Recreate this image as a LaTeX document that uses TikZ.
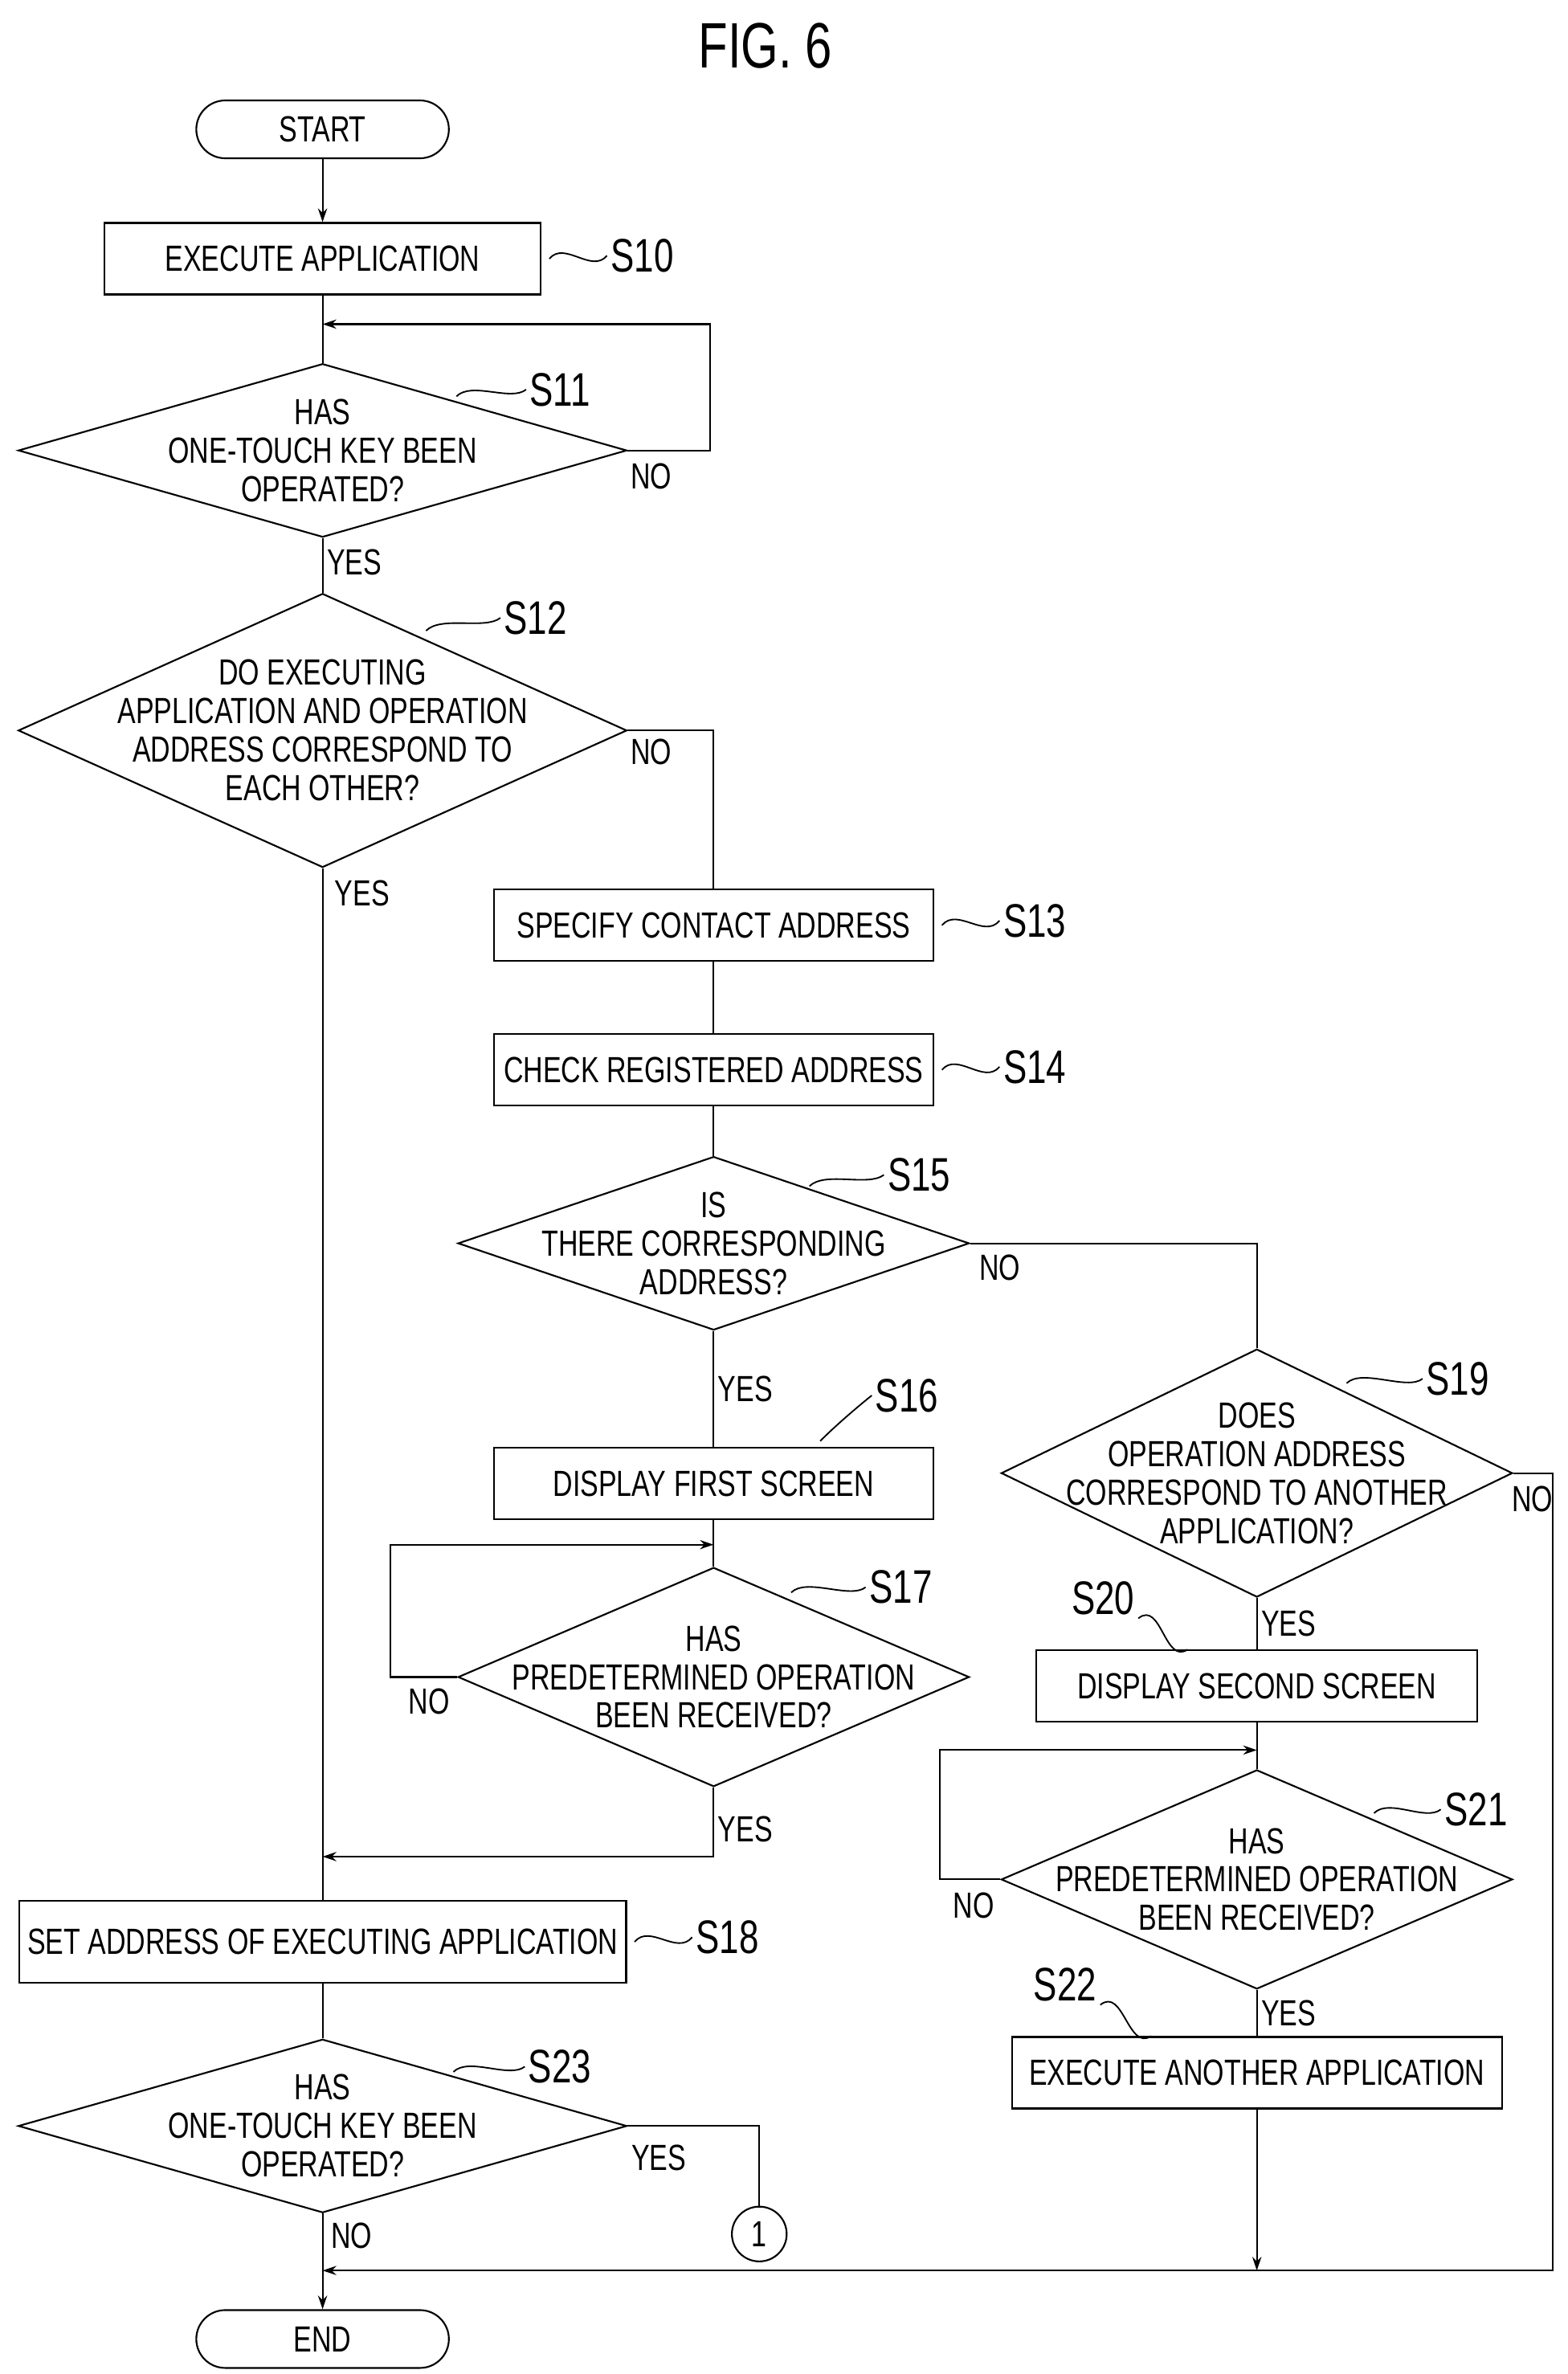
\documentclass[tikz,border=0pt]{standalone}
\usepackage{fontspec}
\setmainfont[FakeStretch=0.75]{Liberation Sans}
\usetikzlibrary{shapes.geometric,arrows.meta,positioning,calc}

\begin{document}
\begin{tikzpicture}[x=0.05cm,y=-0.05cm,
    every node/.style={font=\fontsize{34}{38}\selectfont},
    box/.style={rectangle, draw, line width=1.6pt, minimum height=2.35cm, inner sep=0pt},
    term/.style={rectangle, draw, line width=1.6pt, rounded corners=0.95cm, minimum width=8.3cm, minimum height=1.9cm},
    decision/.style={diamond, draw, line width=1.6pt, inner sep=0pt, font=\fontsize{2}{2}\selectfont},
    dtext/.style={align=center, font=\fontsize{34}{36}\selectfont},
    tag/.style={font=\fontsize{44}{48}\selectfont},
    tilde/.style={line width=1.4pt},
    line/.style={line width=1.6pt},
    arrow/.style={line width=1.6pt,-{Stealth[length=0.45cm,width=0.3cm]}}]

    \useasboundingbox (0,0) rectangle (1030,1560);
    \node[font=\fontsize{60}{64}\selectfont] (title) at (503,30) {FIG. 6};

    % main column
    \node[term] (start) at (212,85) {START};
    \node[box, minimum width=14.35cm] (s10) at (212,170) {EXECUTE APPLICATION};
    \node[decision, aspect=3.5, minimum width=20cm, minimum height=5.7cm,
      label={[dtext]center:HAS\\ONE-TOUCH KEY BEEN\\OPERATED?}] (s11) at (212,296) {};
    \node[decision, aspect=2.22, minimum width=20cm, minimum height=9cm,
      label={[dtext]center:DO EXECUTING\\APPLICATION AND OPERATION\\ADDRESS CORRESPOND TO\\EACH OTHER?}] (s12) at (212,480) {};
    \node[box, minimum width=19.95cm, minimum height=2.7cm] (s18) at (212,1276) {SET ADDRESS OF EXECUTING APPLICATION};
    \node[decision, aspect=3.5, minimum width=20cm, minimum height=5.7cm,
      label={[dtext]center:HAS\\ONE-TOUCH KEY BEEN\\OPERATED?}] (s23) at (212,1397) {};
    \node[term] (end) at (212,1537) {END};
    \node[circle, draw, line width=1.6pt, minimum size=1.8cm, inner sep=0pt] (c1) at (499,1468) {1};

    % middle column
    \node[box, minimum width=14.45cm] (s13) at (469,608) {SPECIFY CONTACT ADDRESS};
    \node[box, minimum width=14.45cm] (s14) at (469,703) {CHECK REGISTERED ADDRESS};
    \node[decision, aspect=2.95, minimum width=16.8cm, minimum height=5.7cm,
      label={[dtext]center:IS\\THERE CORRESPONDING\\ADDRESS?}] (s15) at (469,817) {};
    \node[box, minimum width=14.45cm] (s16) at (469,975) {DISPLAY FIRST SCREEN};
    \node[decision, aspect=2.33, minimum width=16.8cm, minimum height=7.2cm,
      label={[dtext]center:HAS\\PREDETERMINED OPERATION\\BEEN RECEIVED?}] (s17) at (469,1102) {};

    % right column
    \node[decision, aspect=2.06, minimum width=16.8cm, minimum height=8.15cm,
      label={[dtext]center:DOES\\OPERATION ADDRESS\\CORRESPOND TO ANOTHER\\APPLICATION?}] (s19) at (826,968) {};
    \node[box, minimum width=14.5cm] (s20) at (826,1108) {DISPLAY SECOND SCREEN};
    \node[decision, aspect=2.33, minimum width=16.8cm, minimum height=7.2cm,
      label={[dtext]center:HAS\\PREDETERMINED OPERATION\\BEEN RECEIVED?}] (s21) at (826,1235) {};
    \node[box, minimum width=16.1cm] (s22) at (826,1362) {EXECUTE ANOTHER APPLICATION};

    % step tags
    \node[tag] (t10) at (422,168) {S10};
    \node[tag] (t11) at (368,256) {S11};
    \node[tag] (t12) at (352,406) {S12};
    \node[tag] (t13) at (680,605) {S13};
    \node[tag] (t14) at (680,701) {S14};
    \node[tag] (t15) at (604,772) {S15};
    \node[tag] (t16) at (596,917) {S16};
    \node[tag] (t17) at (592,1043) {S17};
    \node[tag] (t18) at (478,1273) {S18};
    \node[tag] (t19) at (958,906) {S19};
    \node[tag] (t20) at (725,1050) {S20};
    \node[tag] (t21) at (970,1189) {S21};
    \node[tag] (t22) at (700,1304) {S22};
    \node[tag] (t23) at (368,1358) {S23};

    \draw[tilde] (s10.east) ++(5,0) .. controls +(10,-12) and +(-10,12) .. (t10.west);
    \draw[tilde] (s11.north) ++(88,22) .. controls +(10,-10) and +(-10,8) .. (t11.west);
    \draw[tilde] (s12.north) ++(68,25) .. controls +(10,-10) and +(-10,8) .. (t12.west);
    \draw[tilde] (s13.east) ++(5,0) .. controls +(10,-12) and +(-10,12) .. (t13.west);
    \draw[tilde] (s14.east) ++(5,0) .. controls +(10,-12) and +(-10,12) .. (t14.west);
    \draw[tilde] (s15.north) ++(63,20) .. controls +(10,-10) and +(-10,8) .. (t15.west);
    \draw[tilde] (s16.north) ++(70,-4) .. controls +(10,-10) and +(-10,8) .. (t16.west);
    \draw[tilde] (s17.north) ++(51,17) .. controls +(10,-10) and +(-10,8) .. (t17.west);
    \draw[tilde] (s18.east) ++(5,0) .. controls +(10,-12) and +(-10,12) .. (t18.west);
    \draw[tilde] (s19.north) ++(59,23) .. controls +(10,-10) and +(-10,8) .. (t19.west);
    \draw[tilde] (t20.south east) .. controls +(15,-12) and +(-15,10) .. ($(s20.north west)+(100,0)$);
    \draw[tilde] (s21.north) ++(77,29) .. controls +(10,-10) and +(-10,8) .. (t21.west);
    \draw[tilde] (t22.south east) .. controls +(15,-12) and +(-15,10) .. ($(s22.north west)+(92,0)$);
    \draw[tilde] (s23.north) ++(86,22) .. controls +(10,-10) and +(-10,8) .. (t23.west);

    % connectors
    \draw[arrow] (start) -- (s10);
    \draw[line] (s10) -- (s11);
    \draw[arrow] (s11.east) -- ++(54,0) |- (212,213);
    \node (n11) at (428,313) {NO};
    \draw[line] (s11) -- node[right, pos=0.45] {YES} (s12);
    \draw[line] (s12.east) -| (s13.north);
    \node (n12) at (428,494) {NO};
    \draw[line] (s12.south) -- (s18.north);
    \node (y12) at (238,587) {YES};
    \draw[line] (s13) -- (s14);
    \draw[line] (s14) -- (s15);
    \draw[line] (s15.east) -| (s19.north);
    \node (n15) at (657,833) {NO};
    \draw[line] (s15) -- node[right] {YES} (s16);
    \draw[line] (s16) -- (s17);
    \draw[arrow] (s17.west) -- ++(-44,0) |- (469,1015);
    \node (n17) at (282,1118) {NO};
    \draw[arrow] (s17.south) |- node[right, pos=0.3] {YES} (212,1220);
    \draw[line] (s18) -- (s23);
    \draw[line] (s23.east) -| (c1.north);
    \node (y23) at (433,1418) {YES};
    \draw[arrow] (s23.south) -- (end.north);
    \node (n23) at (231,1469) {NO};
    \draw[line] (s19) -- node[right] {YES} (s20);
    \draw[arrow] (s19.east) -- ++(26,0) |- (212,1492);
    \node (n19) at (1007,985) {NO};
    \draw[line] (s20) -- (s21);
    \draw[arrow] (s21.west) -- ++(-40,0) |- (826,1150);
    \node (n21) at (640,1252) {NO};
    \draw[line] (s21) -- node[right] {YES} (s22);
    \draw[arrow] (s22.south) -- (826,1492);
\end{tikzpicture}
\end{document}
